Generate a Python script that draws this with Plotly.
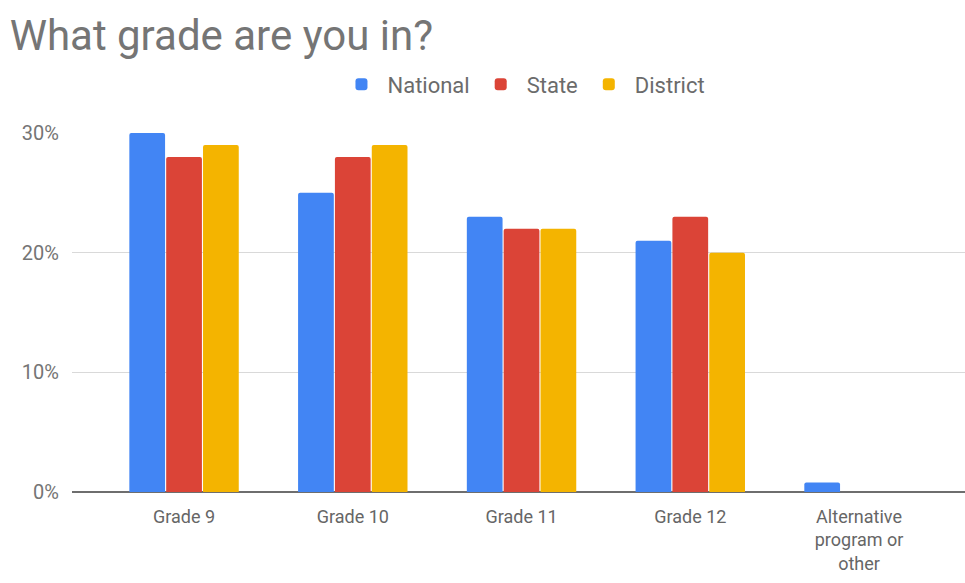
import plotly.graph_objects as go

# Survey data: share of respondents by grade
categories = ["Grade 9", "Grade 10", "Grade 11", "Grade 12", "Alternative<br>program or<br>other"]
national = [30, 25, 23, 21, 0.8]
state = [28, 28, 22, 23, 0]
district = [29, 29, 22, 20, 0]

y_ticks = [0, 10, 20, 30]
y_tick_labels = ["0%", "10%", "20%", "30%"]

series = [
    ("National", national, "#4285F4"),
    ("State", state, "#DB4437"),
    ("District", district, "#F4B400"),
]

fig = go.Figure()
for name, values, color in series:
    fig.add_trace(go.Bar(name=name, x=categories, y=values, marker_color=color,
                         marker_line_width=0, marker_cornerradius=2))

fig.update_layout(
    width=965, height=583,
    paper_bgcolor="white", plot_bgcolor="white",
    font=dict(family="Roboto", color="#757575"),
    title=dict(text="What grade are you in?", x=0.01, xanchor="left",
               y=0.94, yanchor="middle",
               font=dict(size=42, color="#757575")),
    barmode="group", bargap=0.345, bargroupgap=0.03,
    margin=dict(l=72, r=0, t=133, b=91),
    showlegend=True,
    legend=dict(orientation="h", x=0.505, xanchor="center", y=1.135, yanchor="middle",
                font=dict(size=22, color="#6b6b6b"), itemwidth=42),
)
fig.update_xaxes(range=[-0.664, 4.628], showgrid=False, showline=False,
                 tickfont=dict(size=18, color="#666666"), ticks="", ticklabelstandoff=12)
fig.update_yaxes(range=[0, 30], tickmode="array", tickvals=y_ticks, ticktext=y_tick_labels,
                 showgrid=True, gridcolor="#d9d9d9", gridwidth=1,
                 zeroline=True, zerolinecolor="#6e6e6e", zerolinewidth=2,
                 tickfont=dict(size=20, color="#757575"), ticklabelstandoff=12)

# drop the default page margin so the figure sits at the window's corner
fig.write_html("out.html", config={"displayModeBar": False},
               post_script="document.body.style.margin='0px';")
